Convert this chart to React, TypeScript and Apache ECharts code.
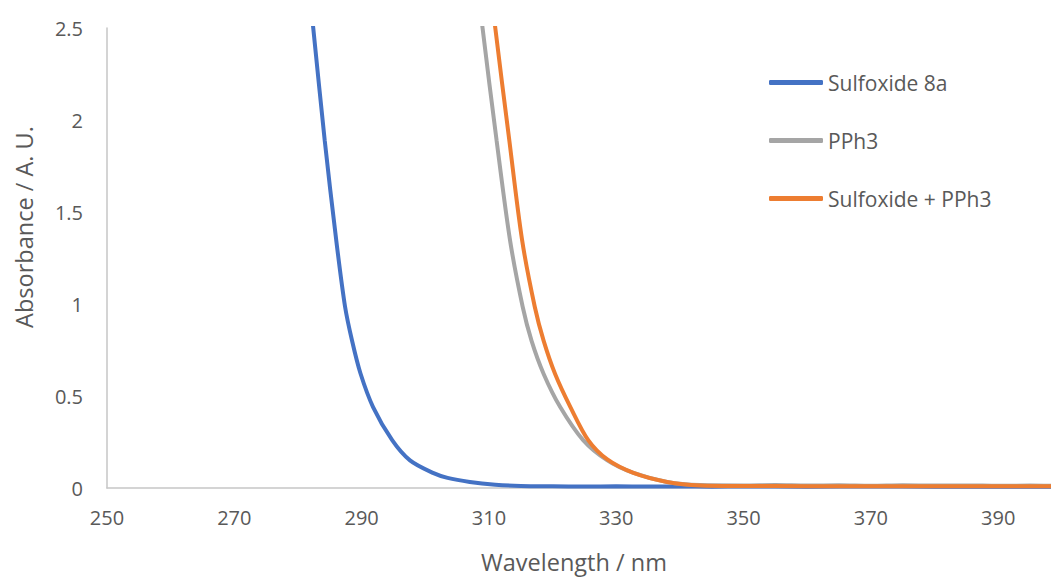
import React, { useEffect, useRef } from "react";
import * as echarts from "echarts";

// Sulfoxide 8a
const sulfoxideWl = [281.8, 282.4, 284.2, 286.0, 287.4, 288.5, 289.8, 291.8, 294.8, 297.6, 301.2, 303.5, 307.0, 311.0, 315.0, 320.0, 325.0, 330.0, 335.0, 340.0, 345.0, 350.0, 360.0, 370.0, 380.0, 390.0, 400.0];
const sulfoxideAbs = [2.7, 2.5, 1.89, 1.35, 0.985, 0.8, 0.625, 0.44, 0.26, 0.15, 0.082, 0.055, 0.033, 0.018, 0.011, 0.009, 0.008, 0.009, 0.008, 0.008, 0.007, 0.008, 0.007, 0.008, 0.007, 0.007, 0.007];

// PPh3
const pph3Wl = [308.4, 309.0, 311.2, 313.3, 315.3, 316.7, 318.6, 321.2, 324.8, 328.6, 332.7, 338.0, 343.2, 350.0, 355.0, 360.0, 365.0, 370.0, 375.0, 380.0, 385.0, 390.0, 395.0, 400.0];
const pph3Abs = [2.7, 2.5, 1.89, 1.35, 0.985, 0.8, 0.62, 0.44, 0.26, 0.15, 0.082, 0.033, 0.016, 0.014, 0.016, 0.013, 0.015, 0.012, 0.015, 0.013, 0.014, 0.012, 0.013, 0.012];

// Sulfoxide + PPh3
const mixWl = [310.4, 311.0, 313.2, 315.2, 317.2, 318.6, 320.4, 322.8, 325.6, 328.6, 332.7, 338.0, 343.2, 350.0, 360.0, 370.0, 380.0, 390.0, 400.0];
const mixAbs = [2.7, 2.5, 1.89, 1.35, 0.985, 0.8, 0.62, 0.44, 0.26, 0.155, 0.082, 0.033, 0.014, 0.011, 0.01, 0.01, 0.01, 0.009, 0.009];

const seriesNames = ["Sulfoxide 8a", "PPh3", "Sulfoxide + PPh3"];
const seriesColors = ["#4472C4", "#A5A5A5", "#ED7D31"];
const xTitle = "Wavelength / nm";
const yTitle = "Absorbance / A. U.";

const pair = (xs: number[], ys: number[]) => xs.map((x, i) => [x, ys[i]]);

const FONT = "'Open Sans', 'Noto Sans', sans-serif";
const TXT = "#595959";

export default function App() {
  const ref = useRef<HTMLDivElement>(null);
  useEffect(() => {
    if (!ref.current) return;
    const chart = echarts.init(ref.current, undefined, { renderer: "svg" });
    const datasets = [pair(sulfoxideWl, sulfoxideAbs), pair(pph3Wl, pph3Abs), pair(mixWl, mixAbs)];
    chart.setOption({
      animation: false,
      backgroundColor: "#ffffff",
      grid: { left: 107, top: 28, right: 0, bottom: 90, containLabel: false },
      xAxis: {
        type: "value",
        min: 250,
        max: 398.3,
        interval: 20,
        axisLine: { show: true, lineStyle: { color: "#C6C6C6", width: 1.5 } },
        axisTick: { show: false },
        splitLine: { show: false },
        axisLabel: { color: TXT, fontSize: 20, fontFamily: FONT, margin: 19, showMaxLabel: false },
      },
      yAxis: {
        type: "value",
        min: 0,
        max: 2.5,
        interval: 0.5,
        axisLine: { show: true, lineStyle: { color: "#C6C6C6", width: 1.5 } },
        axisTick: { show: false },
        splitLine: { show: false },
        axisLabel: { color: TXT, fontSize: 20, fontFamily: FONT, margin: 24 },
      },
      legend: {
        orient: "vertical",
        left: 769,
        top: 72,
        padding: 0,
        itemWidth: 54,
        itemHeight: 5,
        itemGap: 37,
        icon: "roundRect",
        textStyle: { color: TXT, fontSize: 21, fontFamily: FONT, lineHeight: 21 },
        data: seriesNames,
      },
      graphic: [
        {
          type: "text",
          x: 574,
          y: 562,
          style: { text: xTitle, fill: TXT, fontSize: 23.5, fontFamily: FONT, align: "center", verticalAlign: "middle" },
        },
        {
          type: "text",
          x: 24,
          y: 227,
          rotation: Math.PI / 2,
          style: { text: yTitle, fill: TXT, fontSize: 23.5, fontFamily: FONT, align: "center", verticalAlign: "middle" },
        },
      ],
      series: seriesNames.map((name, i) => ({
        name,
        type: "line",
        data: datasets[i],
        showSymbol: false,
        symbol: "none",
        smooth: 0.3,
        clip: true,
        lineStyle: { color: seriesColors[i], width: 4 },
        itemStyle: { color: seriesColors[i] },
      })),
    });
    return () => chart.dispose();
  }, []);
  return <div ref={ref} style={{ position: "fixed", left: 0, top: 0, width: 1051, height: 578 }} />;
}
